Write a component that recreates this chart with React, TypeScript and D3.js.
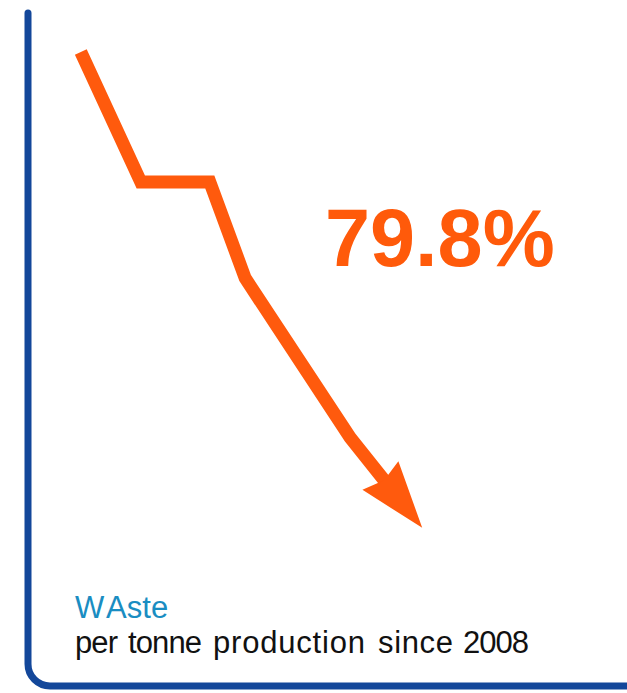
import React from "react";
import * as d3 from "d3";

// Trend of waste per tonne production (relative index units)
const stepX: number[] = [8.8, 18.8, 30.3, 36.2, 53.7, 65.7];
const stepY: number[] = [94.2, 74.9, 74.9, 60.6, 36.9, 23.5];
const headline: string[] = ["79.8%"];
const titleWords: string[] = ["W", "Aste"];
const subtitleWords: string[] = ["per", "tonne", "production", "since", "2008"];

const W = 627;
const H = 693;

export default function App() {
  const x = d3.scaleLinear().domain([0, 100]).range([28, 628]);
  const y = d3.scaleLinear().domain([0, 100]).range([686, 13]);

  // axis L-shape with rounded corner
  const r = 22;
  const ax = d3.path();
  ax.moveTo(x(0), y(100));
  ax.lineTo(x(0), y(0) - r);
  ax.arcTo(x(0), y(0), x(0) + r, y(0), r);
  ax.lineTo(x(100), y(0));

  const pts: [number, number][] = stepX.map((v, i) => [x(v), y(stepY[i])]);
  const tip = pts[pts.length - 1];
  const prev = pts[pts.length - 2];
  const dx = tip[0] - prev[0];
  const dy = tip[1] - prev[1];
  const len = Math.hypot(dx, dy);
  const ux = dx / len;
  const uy = dy / len;
  const headLen = 67;
  const halfW = 23;
  const base: [number, number] = [tip[0] - ux * headLen, tip[1] - uy * headLen];
  const shaftEnd: [number, number] = [tip[0] - ux * (headLen - 12), tip[1] - uy * (headLen - 12)];
  const linePts = [...pts.slice(0, -1), shaftEnd];
  const line = d3.line<[number, number]>();
  const headPts: [number, number][] = [
    tip,
    [base[0] - uy * halfW, base[1] + ux * halfW],
    [base[0] + ux * 6, base[1] + uy * 6],
    [base[0] + uy * halfW, base[1] - ux * halfW],
  ];
  const head = d3.line<[number, number]>().curve(d3.curveLinearClosed);

  const subX = [75, 128, 213, 378, 463];
  const subLen = [43, 74, 152, 75, 66];

  return (
    <svg
      width={W}
      height={H}
      style={{ position: "absolute", left: 0, top: 0, background: "#fff" }}
      fontFamily="'Liberation Sans', Arial, sans-serif"
    >
      <path d={ax.toString()} fill="none" stroke="#13479A" strokeWidth={7} strokeLinecap="round" />
      <path
        d={line(linePts) || ""}
        fill="none"
        stroke="#FF5A0D"
        strokeWidth={13}
        strokeLinejoin="miter"
        strokeLinecap="butt"
      />
      <path d={head(headPts) || ""} fill="#FF5A0D" />
      <text x={325} y={266} fontSize={81} fontWeight="bold" fill="#FF5A0A">
        {headline[0]}
      </text>
      <text x={75} y={618} fontSize={31} fill="#1A8DC2">
        <tspan>{titleWords[0]}</tspan>
        <tspan dx={3}>{titleWords[1]}</tspan>
      </text>
      <text y={653} fontSize={31} fill="#111">
        {subtitleWords.map((w, i) => (
          <tspan key={i} x={subX[i]} textLength={subLen[i]} lengthAdjust="spacing">
            {w}
          </tspan>
        ))}
      </text>
    </svg>
  );
}
